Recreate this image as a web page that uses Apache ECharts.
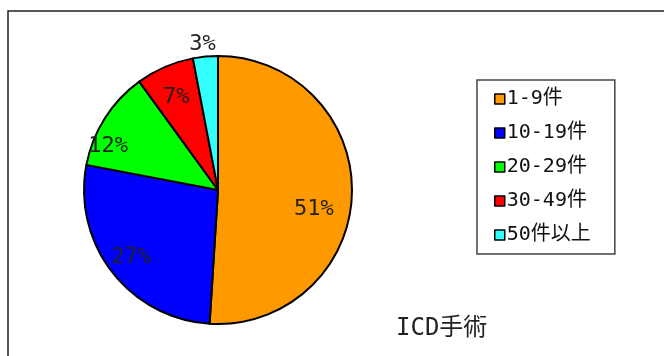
<!DOCTYPE html>
<html><head><meta charset="utf-8">
<script src="https://cdn.jsdelivr.net/npm/echarts@6/dist/echarts.min.js"></script>
<style>html,body{margin:0;padding:0;background:#fff}#c{width:664px;height:356px}</style>
</head><body><div id="c"></div>
<script>
const categories = ['1-9件', '10-19件', '20-29件', '30-49件', '50件以上'];
const values = [51, 27, 12, 7, 3];
const colors = ['#FF9900', '#0000FF', '#00FF00', '#FF0000', '#33FFFF'];
const title = 'ICD手術';
// small nudges so labels sit where the original placed them
const labelNudge = [[-14, 16], [0, 0], [-17, 15], [2, 8], [16, -6]];

const FONT = '"DejaVu Sans Mono", "Noto Sans CJK JP", monospace';
const chart = echarts.init(document.getElementById('c'));
const data = categories.map((n, i) => ({ name: n, value: values[i], itemStyle: { color: colors[i] } }));
const labelData = categories.map((n, i) => ({
  name: n, value: values[i],
  label: i === values.length - 1 ? { position: 'outside' } : { position: 'inside' }
}));
chart.setOption({
  backgroundColor: '#fff',
  animation: false,
  graphic: [{
    type: 'rect', shape: { x: 8, y: 11, width: 800, height: 500 },
    style: { fill: 'none', stroke: '#222', lineWidth: 1.5 }, silent: true, z: 0
  }],
  title: {
    text: title, left: 391, top: 312,
    textStyle: { fontFamily: FONT, fontSize: 24, fontWeight: 'normal', color: '#222' }
  },
  legend: {
    orient: 'vertical', left: 477, top: 80,
    data: categories,
    padding: [8, 24, 8, 17],
    itemGap: 12, itemWidth: 10, itemHeight: 10,
    borderColor: '#444', borderWidth: 1.5,
    icon: 'rect',
    itemStyle: { borderColor: '#000', borderWidth: 1.5 },
    textStyle: { fontFamily: FONT, fontSize: 20, color: '#111', lineHeight: 22, padding: [0, 0, 0, -3] }
  },
  series: [{
    type: 'pie', center: [218, 190], radius: 134,
    startAngle: 90, clockwise: true,
    data: data,
    label: { show: false }, labelLine: { show: false },
    itemStyle: { borderColor: '#000', borderWidth: 2 },
    emphasis: { disabled: true }, silent: true
  }, {
    type: 'pie', center: [218, 190], radius: [80, 134],
    startAngle: 90, clockwise: true,
    data: labelData,
    itemStyle: { color: 'rgba(0,0,0,0)', borderWidth: 0 },
    label: { show: true, formatter: '{c}%', fontFamily: FONT, fontSize: 22, color: '#222' },
    labelLine: { show: false, length: 6, length2: 0 },
    labelLayout: function (p) { const o = labelNudge[p.dataIndex]; return { dx: o[0], dy: o[1] }; },
    emphasis: { disabled: true }, silent: true, z: 3
  }]
});
</script></body></html>
